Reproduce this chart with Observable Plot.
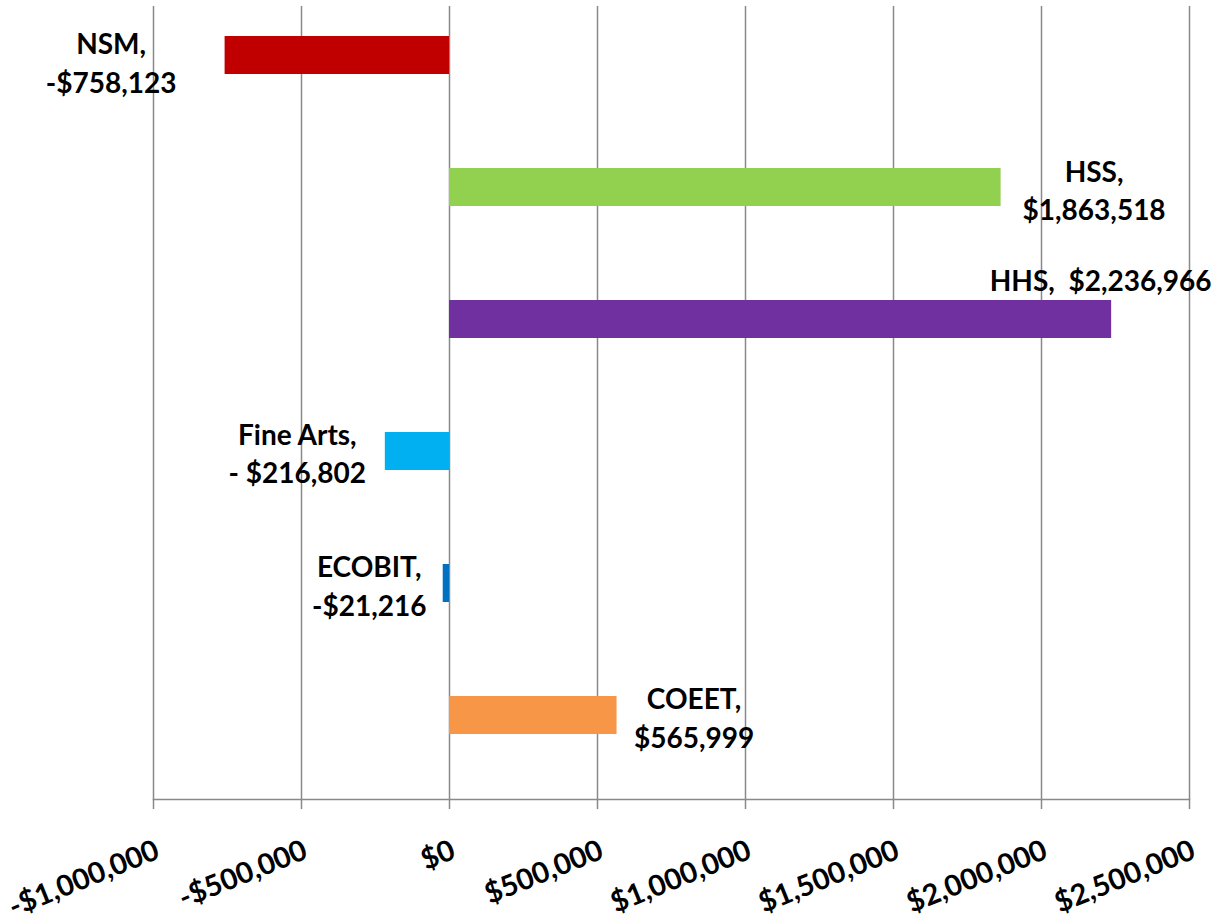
<!DOCTYPE html>
<html>
<head>
<meta charset="utf-8">
<script src="https://cdn.jsdelivr.net/npm/d3@7"></script>
<script src="https://cdn.jsdelivr.net/npm/@observablehq/plot@0.6"></script>
<style>
  html, body { margin: 0; padding: 0; background: #fff; }
  svg text { white-space: pre; }
</style>
</head>
<body>
<div id="chart"></div>
<script>
// ---- data ----
const categories = ["NSM", "HSS", "HHS", "Fine Arts", "ECOBIT", "COEET"];
const values = [-758123, 1863518, 2236966, -216802, -21216, 565999];
const labelTexts = [
  "NSM,\n-$758,123",
  "HSS,\n$1,863,518",
  "HHS,  $2,236,966",
  "Fine Arts,\n- $216,802",
  "ECOBIT,\n-$21,216",
  "COEET,\n$565,999"
];
const tickValues = [-1000000, -500000, 0, 500000, 1000000, 1500000, 2000000, 2500000];

// ---- styles ----
const palette = ["#C00000", "#92D050", "#7030A0", "#00B0F0", "#0070C0", "#F79646"];
const labelOffsets = [
  {dx: -114, dy: -12.5},
  {dx: 93, dy: -17},
  {dx: -11, dy: -59},
  {dx: -88, dy: -18},
  {dx: -74, dy: -17.5},
  {dx: 77, dy: -17.5}
];
const gridColor = "#898989";

const rows = categories.map((c, i) => ({category: c, value: values[i], label: labelTexts[i]}));
const money = d => (d < 0 ? "-" : "") + "$" + d3.format(",")(Math.abs(d));

const chart = Plot.plot({
  width: 1221,
  height: 922,
  marginLeft: 153,
  marginRight: 32,
  marginTop: 6,
  marginBottom: 123,
  style: {fontFamily: "Lato, 'Open Sans', sans-serif", background: "#fff"},
  x: {domain: [-1000000, 2500000], ticks: tickValues, tickFormat: money},
  y: {domain: categories, padding: 0, axis: null},
  color: {domain: categories, range: palette},
  marks: [
    Plot.gridX(tickValues, {stroke: gridColor, strokeOpacity: 1, strokeWidth: 1.5}),
    Plot.barX(rows, {x: "value", y: "category", fill: "category", insetTop: 29, insetBottom: 65}),
    Plot.frame({anchor: "bottom", stroke: gridColor, strokeWidth: 1.5}),
    Plot.axisX(tickValues, {
      tickSize: 10,
      text: null,
      stroke: gridColor,
      strokeWidth: 1.5,
      strokeOpacity: 1,
      label: null
    }),
    Plot.axisX(tickValues, {
      tickFormat: money,
      tickSize: 0,
      tickPadding: 39,
      tickRotate: -22,
      textAnchor: "end",
      lineAnchor: "top",
      dx: 0,
      fontSize: 29,
      fontWeight: "bold",
      fill: "#000",
      label: null
    }),
    ...rows.map((r, i) => Plot.text([r], {
      x: "value",
      y: "category",
      text: "label",
      dx: labelOffsets[i].dx,
      dy: labelOffsets[i].dy,
      fontSize: 28,
      fontWeight: "bold",
      lineHeight: 1.375,
      textAnchor: "middle",
      lineAnchor: "middle",
      fill: "#000"
    }))
  ]
});
document.getElementById("chart").appendChild(chart);
</script>
</body>
</html>
